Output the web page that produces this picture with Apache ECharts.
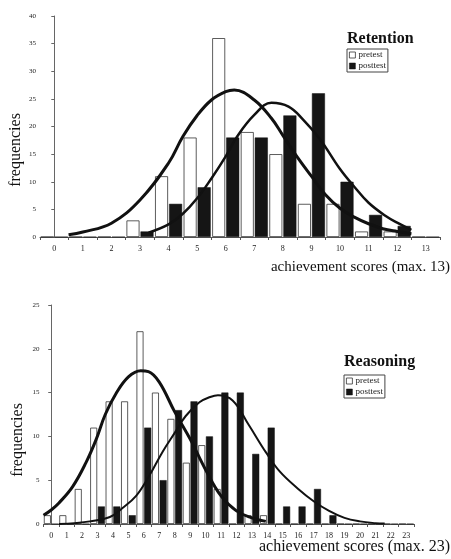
<!DOCTYPE html>
<html>
<head>
<meta charset="utf-8">
<script src="https://cdn.jsdelivr.net/npm/echarts@6/dist/echarts.min.js"></script>
<style>
html,body{margin:0;padding:0;background:#fff;}
#chart{width:451px;height:559px;}
</style>
</head>
<body>
<div id="chart"></div>
<script>
// ---- Data ----
const retentionCategories = ['0','1','2','3','4','5','6','7','8','9','10','11','12','13'];
const retentionPretest  = [0,0,0,3,11,18,36,19,15,6,6,1,1,0];
const retentionPosttest = [0,0,0,1,6,9,18,18,22,26,10,4,2,0];
const retentionPretestCurve = [[0.5,0.4],[1,0.9],[2,2.5],[3,6.7],[4,13.4],[4.5,18.2],[5,22],[5.5,24.8],[6,26.3],[6.3,26.6],[7,24.8],[7.6,21.5],[8,18.4],[8.5,14.5],[9,11],[9.5,7.6],[10,5.2],[10.5,3.6],[11,2.4],[11.5,1.5],[12,1.0],[12.5,0.6]];
const retentionPosttestCurve = [[3.3,0.8],[4,2.3],[4.5,4.2],[5,7.0],[5.5,10.6],[6,14.6],[6.4,18.2],[7,22.1],[7.6,24.3],[8.2,23.6],[8.7,21.3],[9.3,17.7],[10,12.3],[10.5,9.1],[11,6.2],[11.6,3.8],[12,2.6],[12.5,1.3]];

const reasoningCategories = ['0','1','2','3','4','5','6','7','8','9','10','11','12','13','14','15','16','17','18','19','20','21','22','23'];
const reasoningPretest  = [1,1,4,11,14,14,22,15,12,7,9,4,0,1,1,0,0,0,0,0,0,0,0,0];
const reasoningPosttest = [0,0,0,2,2,1,11,5,13,14,10,15,15,8,11,2,2,4,1,0,0,0,0,0];
const reasoningPretestCurve = [[-0.5,1.0],[0,1.6],[0.5,2.4],[1.4,4.3],[2.25,7.0],[2.9,9.6],[3.5,12.5],[4.2,14.9],[5,16.8],[5.8,17.5],[6.3,17.4],[7,16.2],[8,12.8],[9,9.7],[10,6.2],[11,3.2],[12,1.5],[13,0.7],[13.9,0.3]];
const reasoningPosttestCurve = [[0.5,0],[1.5,0.1],[2.5,0.3],[3.8,0.8],[4.6,1.8],[5.5,3.2],[6.35,5.5],[7.2,8.2],[8,10.4],[8.7,12.3],[9.6,13.9],[10.3,14.5],[10.8,14.7],[11.75,14.1],[12.8,11.3],[13.9,8.2],[14.8,6.0],[16,4.0],[17,2.6],[18,1.5],[19,0.7],[20,0.3],[21,0.1],[21.6,0.05]];

const titles = ['Retention','Reasoning'];
const xAxisTitles = ['achievement scores (max. 13)','achievement scores (max. 23)'];
const yAxisTitle = 'frequencies';
const legendNames = ['pretest','posttest'];

// ---- Chart ----
const FONT = '"Liberation Serif", "DejaVu Serif", serif';
const chart = echarts.init(document.getElementById('chart'), null, {renderer:'canvas'});

function catAxis(grid, cats, fs){
  return {type:'category', gridIndex:grid, data:cats,
    axisLine:{lineStyle:{color:'#555',width:1}},
    axisTick:{show:true,length:3,lineStyle:{color:'#555'}},
    axisLabel:{fontFamily:FONT,fontSize:fs,color:'#222',margin:8},
    splitLine:{show:false}};
}
function valX(grid, max){
  return {type:'value', gridIndex:grid, min:-0.5, max:max, show:false, splitLine:{show:false}};
}
function valY(grid, max){
  return {type:'value', gridIndex:grid, min:0, max:max, interval:5,
    axisLine:{show:true,lineStyle:{color:'#666',width:1}},
    axisTick:{show:true,length:3,lineStyle:{color:'#666'}},
    axisLabel:{fontFamily:FONT,fontSize:7,color:'#222',margin:4},
    splitLine:{show:false}};
}
const preStyle = {color:'#ffffff',borderColor:'#333',borderWidth:0.8};
const postStyle = {color:'#151515',borderColor:'#111',borderWidth:0.5};

function legend(left, top){
  return {left:left, top:top, orient:'vertical', padding:[1,2],
    itemGap:1, itemWidth:6, itemHeight:6, icon:'rect',
    borderColor:'#444', borderWidth:1, borderRadius:0,
    textStyle:{fontFamily:FONT,fontSize:9,color:'#222',lineHeight:10,padding:[0,0,0,-2]},
    selectedMode:false,
    data:[{name:legendNames[0],itemStyle:preStyle},{name:legendNames[1],itemStyle:postStyle}]};
}

const option = {
  animation:false,
  backgroundColor:'#fff',
  title:[
    {text:titles[0], left:347, top:31, padding:0, textStyle:{fontFamily:FONT,fontSize:16,fontWeight:'bold',color:'#111'}},
    {text:titles[1], left:344, top:354, padding:0, textStyle:{fontFamily:FONT,fontSize:16,fontWeight:'bold',color:'#111'}}
  ],
  legend:[legend(347,49), legend(344,375)],
  grid:[
    {left:40, right:11, top:16, bottom:322, containLabel:false},
    {left:43.5, right:37, top:305, bottom:35, containLabel:false}
  ],
  xAxis:[
    catAxis(0, retentionCategories, 8),
    valX(0, 13.5),
    catAxis(1, reasoningCategories, 8),
    valX(1, 23.5)
  ],
  yAxis:[ valY(0,40), valY(1,25) ],
  graphic:[
    {type:'text', x:16, y:150, rotation:Math.PI/2,
     style:{text:yAxisTitle, font:'16px '+FONT, fill:'#111', textAlign:'center', textVerticalAlign:'middle', align:'center', verticalAlign:'middle'}},
    {type:'text', x:18, y:440, rotation:Math.PI/2,
     style:{text:yAxisTitle, font:'16px '+FONT, fill:'#111', textAlign:'center', textVerticalAlign:'middle', align:'center', verticalAlign:'middle'}},
    {type:'text', x:450, y:267,
     style:{text:xAxisTitles[0], font:'15px '+FONT, fill:'#111', textAlign:'right', textVerticalAlign:'middle', align:'right', verticalAlign:'middle'}},
    {type:'text', x:450, y:547,
     style:{text:xAxisTitles[1], font:'16px '+FONT, fill:'#111', textAlign:'right', textVerticalAlign:'middle', align:'right', verticalAlign:'middle'}}
  ],
  series:[
    {name:'pretest', type:'bar', xAxisIndex:0, yAxisIndex:0, data:retentionPretest, barWidth:13, barGap:'8%', itemStyle:preStyle},
    {name:'posttest', type:'bar', xAxisIndex:0, yAxisIndex:0, data:retentionPosttest, barWidth:13, barGap:'8%', itemStyle:postStyle},
    {name:'pretest curve', type:'line', xAxisIndex:1, yAxisIndex:0, data:retentionPretestCurve, smooth:0.4, symbol:'none', z:5, lineStyle:{color:'#111',width:3}},
    {name:'posttest curve', type:'line', xAxisIndex:1, yAxisIndex:0, data:retentionPosttestCurve, smooth:0.4, symbol:'none', z:5, lineStyle:{color:'#111',width:2.5}},
    {name:'pretest', type:'bar', xAxisIndex:2, yAxisIndex:1, data:reasoningPretest, barWidth:7, barGap:'10%', itemStyle:preStyle},
    {name:'posttest', type:'bar', xAxisIndex:2, yAxisIndex:1, data:reasoningPosttest, barWidth:7, barGap:'10%', itemStyle:postStyle},
    {name:'pretest curve 2', type:'line', xAxisIndex:3, yAxisIndex:1, data:reasoningPretestCurve, smooth:0.4, symbol:'none', z:5, lineStyle:{color:'#111',width:3}},
    {name:'posttest curve 2', type:'line', xAxisIndex:3, yAxisIndex:1, data:reasoningPosttestCurve, smooth:0.4, symbol:'none', z:5, lineStyle:{color:'#111',width:2}}
  ]
};
chart.setOption(option);
</script>
</body>
</html>
